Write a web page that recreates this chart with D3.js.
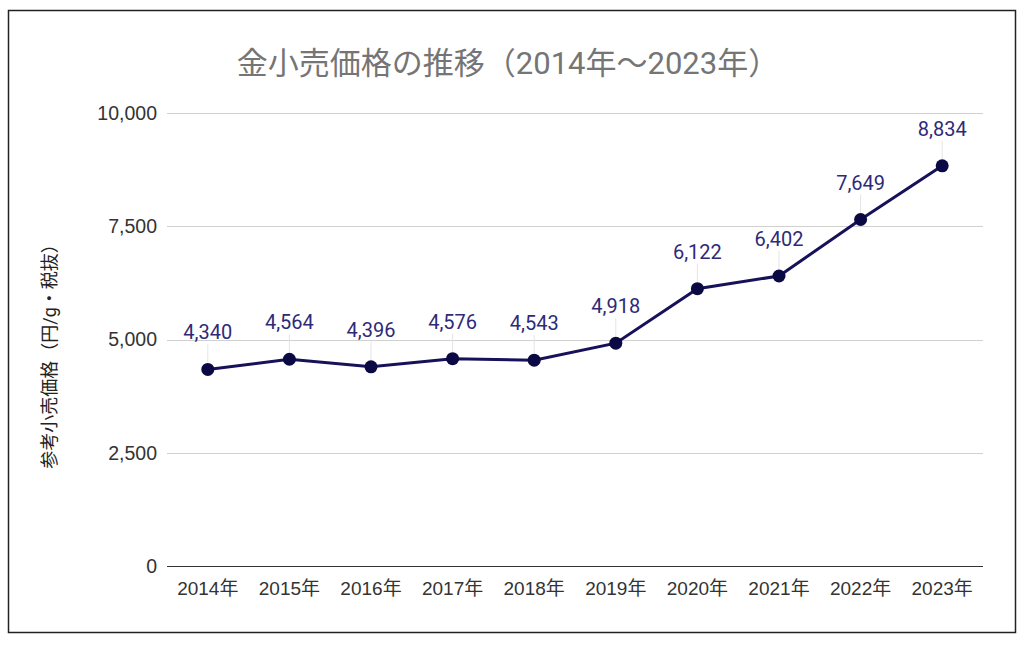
<!DOCTYPE html>
<html>
<head>
<meta charset="utf-8">
<script src="https://cdn.jsdelivr.net/npm/d3@7"></script>
<style>
  body { margin: 0; background: #fff; }
  svg { display: block; font-family: "Liberation Sans", "Noto Sans CJK JP", sans-serif; }
</style>
</head>
<body>
<div id="chart"></div>
<script>
// 金小売価格の推移 - data
const years = ["2014年", "2015年", "2016年", "2017年", "2018年", "2019年", "2020年", "2021年", "2022年", "2023年"];
const prices = [4340, 4564, 4396, 4576, 4543, 4918, 6122, 6402, 7649, 8834];
const yTicks = [0, 2500, 5000, 7500, 10000];

const W = 1024, H = 645;
const margin = { top: 113, right: 40, bottom: 79, left: 167 };

const svg = d3.select("#chart").append("svg")
    .attr("width", W)
    .attr("height", H);

// outer frame
svg.append("rect")
    .attr("x", 8.5).attr("y", 10.5)
    .attr("width", 1007).attr("height", 622)
    .attr("fill", "#fff")
    .attr("stroke", "#222")
    .attr("stroke-width", 1.5);

const x = d3.scaleBand()
    .domain(years)
    .range([margin.left, 983]);

const y = d3.scaleLinear()
    .domain([0, 10000])
    .range([566, margin.top]);

// gridlines
svg.append("g")
    .selectAll("line")
    .data(yTicks.filter(d => d > 0))
    .enter()
    .append("line")
    .attr("x1", margin.left).attr("x2", 983)
    .attr("y1", d => Math.round(y(d)) + 0.5)
    .attr("y2", d => Math.round(y(d)) + 0.5)
    .attr("stroke", "#d0d0d0")
    .attr("stroke-width", 1);

// y tick labels
svg.append("g")
    .selectAll("text")
    .data(yTicks)
    .enter()
    .append("text")
    .attr("x", 157)
    .attr("y", d => y(d))
    .attr("dy", "0.35em")
    .attr("text-anchor", "end")
    .attr("fill", "#333")
    .style("font-size", "19.5px")
    .text(d => d3.format(",")(d));

// baseline
svg.append("line")
    .attr("x1", margin.left).attr("x2", 983)
    .attr("y1", Math.round(y(0)) + 0.5).attr("y2", Math.round(y(0)) + 0.5)
    .attr("stroke", "#333")
    .attr("stroke-width", 1);

// x axis labels
svg.append("g")
    .selectAll("text")
    .data(years)
    .enter()
    .append("text")
    .attr("x", d => x(d) + x.bandwidth() / 2)
    .attr("y", 588)
    .attr("dy", "0.35em")
    .attr("text-anchor", "middle")
    .attr("fill", "#333")
    .style("font-size", "19px")
    .text(d => d);

const cx = (d, i) => x(years[i]) + x.bandwidth() / 2;

// leader lines for data labels
svg.append("g")
    .selectAll("line")
    .data(prices)
    .enter()
    .append("line")
    .attr("x1", cx).attr("x2", cx)
    .attr("y1", d => y(d) - 7)
    .attr("y2", d => y(d) - 25)
    .attr("stroke", "#e4e4e4")
    .attr("stroke-width", 1);

// line
const line = d3.line()
    .x((d, i) => cx(d, i))
    .y(d => y(d));

svg.append("path")
    .datum(prices)
    .attr("d", line)
    .attr("fill", "none")
    .attr("stroke", "#17115a")
    .attr("stroke-width", 3);

// points
svg.append("g")
    .selectAll("circle")
    .data(prices)
    .enter()
    .append("circle")
    .attr("cx", cx)
    .attr("cy", d => y(d))
    .attr("r", 6.5)
    .attr("fill", "#0b0944");

// data labels
svg.append("g")
    .selectAll("text")
    .data(prices)
    .enter()
    .append("text")
    .attr("x", cx)
    .attr("y", d => y(d) - 37)
    .attr("dy", "0.35em")
    .attr("text-anchor", "middle")
    .attr("fill", "#2e2a78")
    .style("font-family", "Roboto, sans-serif")
    .style("font-size", "20px")
    .text(d => d3.format(",")(d));

// title
svg.append("text")
    .attr("x", 508)
    .attr("y", 63)
    .attr("dy", "0.35em")
    .attr("text-anchor", "middle")
    .attr("fill", "#757575")
    .style("font-family", "Roboto, 'Noto Sans CJK JP', sans-serif")
    .style("font-size", "31px")
    .text("金小売価格の推移（2014年～2023年）");

// y axis title
svg.append("text")
    .attr("transform", "translate(50,352) rotate(-90)")
    .attr("dy", "0.35em")
    .attr("text-anchor", "middle")
    .attr("fill", "#222")
    .style("font-family", "Roboto, 'Noto Sans CJK JP', sans-serif")
    .style("font-size", "18px")
    .text("参考小売価格（円/g・税抜）");
</script>
</body>
</html>
